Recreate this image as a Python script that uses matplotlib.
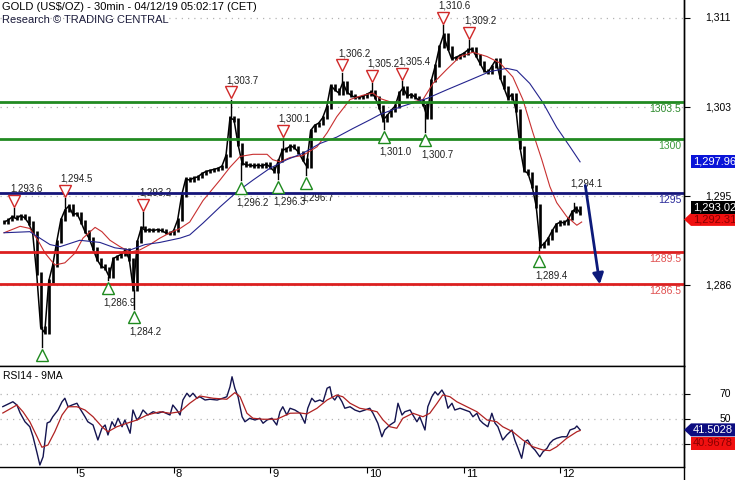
import numpy as np
import matplotlib
matplotlib.use("Agg")
import matplotlib.pyplot as plt
from matplotlib import transforms
from matplotlib.patches import Polygon
from matplotlib.lines import Line2D

plt.rcParams['font.family'] = ['Liberation Sans', 'DejaVu Sans']

# ---- data (x = hours since 00:00 CET on the 4th, trading days only) ----
HOUR0 = 6
CLOSE = [
    # 4th
    1292.3, 1292.5, 1292.8, 1292.6, 1292.9, 1292.7, 1292.2, 1291.3, 1287.5, 1282.5, 1282.0, 1286.8,
    1288.3, 1290.5, 1292.5, 1293.4, 1293.8, 1293.0,
    # 5th
    1293.1, 1292.3, 1291.4, 1290.8, 1289.8, 1288.8, 1288.2, 1288.0, 1287.2, 1288.9, 1289.1, 1289.3,
    1289.7, 1288.8, 1286.0, 1290.5, 1291.8, 1291.5, 1291.6, 1291.5, 1291.6, 1291.5, 1291.3, 1291.2,
    # 8th
    1291.5, 1292.5, 1294.8, 1296.3, 1296.2, 1296.4, 1296.5, 1296.8, 1297.0, 1297.1, 1297.2, 1297.3,
    1297.5, 1298.5, 1302.0, 1301.8, 1299.5, 1297.8, 1297.6, 1297.6, 1297.5, 1297.6, 1297.5, 1297.7,
    # 9th
    1297.4, 1297.0, 1298.0, 1299.0, 1299.1, 1299.4, 1299.2, 1298.8, 1298.1, 1297.5, 1300.8, 1301.3,
    1301.5, 1302.0, 1303.0, 1305.0, 1304.6, 1304.3, 1305.3, 1304.4, 1304.1, 1303.9, 1303.9, 1304.0,
    # 10th
    1304.2, 1304.4, 1303.9, 1303.0, 1301.8, 1302.2, 1302.7, 1303.1, 1304.3, 1304.8, 1304.0, 1304.2,
    1303.9, 1303.6, 1303.2, 1302.0, 1305.5, 1306.9, 1308.6, 1309.7, 1308.5, 1307.5, 1307.6, 1307.8,
    # 11th
    1308.0, 1308.3, 1308.4, 1307.8, 1307.1, 1306.4, 1306.2, 1306.8, 1307.4, 1305.8, 1304.8, 1303.8,
    1304.2, 1302.7, 1299.2, 1297.1, 1296.8, 1295.6, 1293.8, 1290.0, 1290.3, 1290.8, 1291.5, 1292.1,
    # 12th
    1292.3, 1292.2, 1292.6, 1293.3, 1293.6, 1293.1,
]

MA_RED_T = [5.9, 9.9, 12.3, 14.3, 16.1, 18.5, 21.0, 23.5, 25.5, 28.5, 30.2, 32.2, 34.7, 37.2, 39.6,
            42.1, 44.6, 47.1, 49.6, 52.0, 55.3, 59.5, 62.0, 64.5, 67.7, 71.2, 72.6, 74.4, 76.9, 80.1,
            83.6, 86.1, 88.5, 91.8, 95.0, 97.5, 99.2, 102.4, 106.7, 109.9, 112.4, 115.8, 119.1, 122.3,
            125.8, 129.0, 132.2, 134.7, 137.2, 139.4, 141.4, 143.1, 145.6, 148.1, 149.3]
MA_RED = [1291.3, 1291.9, 1291.7, 1290.6, 1289.4, 1288.3, 1288.5, 1289.4, 1290.8, 1291.8, 1291.4, 1290.6,
          1290.0, 1289.5, 1289.7, 1290.2, 1290.8, 1291.3, 1291.7, 1292.3, 1294.3, 1296.2, 1297.4, 1298.4,
          1298.6, 1298.6, 1298.1, 1297.9, 1298.3, 1298.5, 1299.3, 1300.6, 1302.1, 1303.7, 1304.1, 1304.3,
          1303.8, 1303.4, 1303.4, 1303.7, 1305.2, 1306.5, 1307.7, 1308.1, 1307.7, 1307.1, 1305.8, 1303.7,
          1300.6, 1298.1, 1295.6, 1294.1, 1292.8, 1292.0, 1292.3]

MA_BLUE_T = [5.9, 12.3, 17.3, 19.8, 24.7, 29.7, 33.4, 37.2, 40.9, 44.6, 49.6, 52.0, 55.3, 59.5, 63.7,
             67.7, 71.9, 76.1, 80.1, 84.3, 88.5, 92.5, 96.7, 99.2, 104.2, 110.9, 115.8, 121.5, 126.5,
             130.7, 133.2, 136.4, 139.7, 143.1, 146.4, 148.9]
MA_BLUE = [1291.3, 1291.4, 1290.2, 1290.0, 1290.6, 1290.4, 1289.9, 1289.7, 1290.2, 1290.4, 1290.8, 1291.1,
           1292.2, 1293.7, 1295.1, 1296.2, 1297.3, 1298.1, 1298.7, 1299.6, 1300.2, 1301.0, 1301.8, 1302.3,
           1303.0, 1303.8, 1304.6, 1305.5, 1306.3, 1306.6, 1306.4, 1305.2, 1303.4, 1301.1, 1299.3, 1297.9]

HIGH_T = [8.4, 21.0, 40.4, 62.2, 75.1, 89.8, 97.2, 104.7, 114.8, 121.3, 147.4]
HIGH_V = [1293.6, 1294.5, 1293.2, 1303.7, 1300.1, 1306.2, 1305.2, 1305.4, 1310.6, 1309.2, 1294.1]
HIGH_MARK = [True] * 10 + [False]
LOW_T = [15.3, 31.7, 38.1, 64.7, 73.9, 80.8, 100.2, 110.4, 138.7]
LOW_V = [1280.7, 1286.9, 1284.2, 1296.2, 1296.3, 1296.7, 1301.0, 1300.7, 1289.4]
LOW_LABEL = [False] + [True] * 8

LEVELS = [1303.5, 1300, 1295, 1289.5, 1286.5]
LEVEL_TXT = ["1303.5", "1300", "1295", "1289.5", "1286.5"]
LEVEL_COL = ["#218a21", "#218a21", "#15157a", "#dc1f1f", "#dc1f1f"]
LEVEL_TXTCOL = ["#2e8a2e", "#3d9a3d", "#2a2a9a", "#e05050", "#e05050"]

FORECAST_T = [150.2, 153.8]
FORECAST_V = [1295.7, 1286.5]

PRICE_TICKS = [1286.4, 1294.7, 1303.0, 1311.3]
PRICE_TICK_TXT = ["1,286", "1,295", "1,303", "1,311"]

RSI_T = [5.6, 8.1, 9.1, 9.9, 11.1, 12.3, 13.1, 14.1, 14.8, 15.6, 16.6, 17.3, 18.0, 19.3, 20.3, 21.0,
         21.8, 22.8, 24.0, 24.7, 26.0, 26.7, 28.0, 29.2, 30.2, 31.0, 31.7, 32.7, 33.4, 34.2, 35.2, 35.9,
         37.2, 37.9, 38.9, 39.6, 40.4, 41.6, 42.9, 44.1, 45.3, 47.1, 47.8, 48.8, 49.6, 50.3, 51.3, 52.0,
         52.8, 53.8, 54.5, 55.8, 57.0, 58.8, 60.2, 61.2, 62.0, 62.5, 63.2, 64.0, 65.0, 65.7, 66.9, 68.2,
         69.4, 70.2, 71.2, 72.4, 73.6, 74.4, 75.1, 76.1, 76.9, 78.1, 79.4, 80.6, 81.3, 82.3, 83.1, 84.3,
         85.1, 86.1, 86.8, 87.3, 88.0, 88.8, 89.8, 90.5, 91.8, 93.0, 94.2, 95.5, 96.7, 97.5, 98.7, 99.7,
         100.4, 101.7, 102.9, 103.7, 104.7, 105.4, 106.7, 107.4, 108.4, 109.1, 110.4, 111.1, 112.1, 112.9,
         113.6, 114.6, 115.3, 116.1, 117.1, 117.8, 119.1, 120.3, 121.5, 122.3, 123.3, 124.0, 124.8, 126.0,
         127.0, 127.8, 128.5, 129.7, 130.7, 132.0, 132.7, 133.5, 134.4, 135.2, 135.9, 136.9, 137.7, 138.9,
         139.7, 140.7, 141.4, 142.2, 143.1, 144.4, 145.6, 146.4, 147.6, 148.1, 148.9]
RSI = [60.1, 64, 61.4, 55, 48, 44, 36, 23, 13.4, 20, 47, 48, 52, 57.4, 64, 66.8,
       60, 61.4, 62.8, 58.8, 52, 48, 45.4, 33.4, 42.8, 45.4, 37.4, 48, 44, 50.8, 44, 49.4,
       38.8, 57.4, 49.4, 52, 57.4, 53.4, 56, 54.8, 56, 53.4, 61.4, 57.4, 53.4, 65.4, 70.8, 68,
       70.8, 66.8, 68, 65.4, 66, 65.4, 66.8, 68, 76, 84, 74.8, 68, 52, 48, 50.8, 49.4,
       50.8, 46.8, 49.4, 50.8, 45.4, 56, 60, 53.4, 58.8, 57.4, 54.8, 46.8, 58.8, 66.8, 64, 65.4,
       64, 74.8, 76, 68, 65.4, 69.4, 64, 58.8, 60, 57.4, 56, 57.4, 58.8, 54.8, 46.8, 36,
       41.4, 45.4, 48, 62.8, 53.4, 56, 57.4, 53.4, 48, 52, 41.4, 60, 68, 72,
       69.4, 73.4, 69.4, 58.8, 62.8, 57.4, 58.8, 57.4, 56, 52, 54.8, 49.4, 46.8, 44,
       54.8, 46.8, 44, 33.4, 37.4, 41.4, 33.4, 26.8, 18.8, 32.1, 33.4, 28, 25.4, 20,
       24, 26.8, 30.8, 33.4, 34.8, 36, 36, 41.4, 42.8, 44.6, 41.5]
RSI_MA_T = [5.6, 9.1, 10.6, 12.3, 14.1, 15.3, 16.8, 18.5, 20.3, 21.8, 24.0, 26.0, 28.0, 30.2, 31.7,
            33.9, 36.4, 38.9, 41.4, 44.6, 47.1, 49.6, 52.0, 54.5, 57.8, 61.2, 63.2, 64.5, 66.2, 67.7,
            70.2, 73.6, 76.9, 79.4, 81.1, 83.6, 86.1, 88.5, 90.0, 91.8, 94.2, 96.7, 98.5, 100.0, 101.7,
            103.4, 104.9, 107.4, 109.9, 111.6, 113.4, 114.8, 116.6, 118.3, 120.8, 123.3, 125.8, 128.2,
            129.7, 132.2, 134.7, 137.2, 139.7, 141.4, 143.1, 145.6, 148.1, 148.9]
RSI_MA = [55, 61.4, 56, 48, 36, 27.6, 29.4, 40, 53.4, 60, 60, 57.4, 52, 44, 40,
          44, 46.8, 49.4, 53.4, 56, 54.8, 56, 62.8, 68.6, 66.8, 66, 71.3, 68, 54.8, 50.8,
          50, 50, 54.8, 55, 54.3, 58.8, 65.4, 69.4, 68, 62.8, 58.8, 57.4, 56, 49.4, 44,
          42.8, 50.8, 54.8, 52, 54.8, 62.8, 69.4, 68, 64, 60, 56, 49.4, 48,
          44, 40, 33.4, 28, 25.4, 24.9, 28, 34.8, 40, 40.97]
RSI_TICKS = [70, 50, 30]

DAY_T = [24, 48, 72, 96, 120, 144]
DAY_TXT = ["5", "8", "9", "10", "11", "12"]

# ---- figure ----
W, H = 735, 480
fig = plt.figure(figsize=(W / 100, H / 100), dpi=100)
RX = 684 / W
ax = fig.add_axes([0, 1 - 366 / H, RX, 366 / H])
rx = fig.add_axes([0, 1 - 467 / H, RX, 101 / H])
for a in (ax, rx):
    a.set_xlim(4.9, 174.7)
    a.spines['left'].set_visible(False)
    for s in a.spines.values():
        s.set_linewidth(1.0)
ax.spines['top'].set_visible(False)
ax.set_ylim(1278.9, 1312.96)
rx.set_ylim(11.8, 92.6)

GRAY = "#b4b4b4"
for v in PRICE_TICKS:
    ax.axhline(v, color=GRAY, lw=0.9, ls=(0, (1, 4)), zorder=0)
for v in RSI_TICKS:
    rx.axhline(v, color=GRAY, lw=0.9, ls=(0, (1, 4)), zorder=0)

# candles: body from previous close to close, plus a close-to-close trace
close = np.array(CLOSE)
hours = HOUR0 + np.arange(len(close))
opens = np.r_[close[0], close[:-1]]
ax.vlines(hours, np.minimum(opens, close) - 0.15, np.maximum(opens, close) + 0.15,
          color="black", lw=1.9, zorder=2)
ax.plot(hours, close, color="black", lw=1.1, zorder=2)
# wicks to the marked swing highs / lows
for t, v in zip(HIGH_T + LOW_T, HIGH_V + LOW_V):
    c = close[int(round(t)) - HOUR0]
    ax.plot([t, t], [c, v], color="black", lw=1.0, zorder=2)

ax.plot(MA_RED_T, MA_RED, color="#c83030", lw=0.8, zorder=3)
ax.plot(MA_BLUE_T, MA_BLUE, color="#24248e", lw=0.8, zorder=3)

side = transforms.blended_transform_factory(ax.transAxes, ax.transData)
for v, txt, col, tcol in zip(LEVELS, LEVEL_TXT, LEVEL_COL, LEVEL_TXTCOL):
    ax.axhline(v, color=col, lw=2.0, zorder=4)
    ax.annotate(txt, xy=(1, v), xycoords=side, xytext=(-2, -5), textcoords="offset points",
                ha="right", va="center", fontsize=7.5, color=tcol, zorder=4)

# swing markers
up = lambda d: transforms.offset_copy(ax.transData, fig=fig, x=0, y=d, units="dots")
for t, v, m in zip(HIGH_T, HIGH_V, HIGH_MARK):
    if m:
        ax.plot(t, v, marker="v", ms=8, mfc="white", mec="#d02828", mew=1.0,
                transform=up(7.5), zorder=5, clip_on=False)
    ax.annotate(f"{v:,.1f}", xy=(t, v), xytext=(-3, 14), textcoords="offset points",
                ha="left", va="center", fontsize=7, color="#202020", zorder=1)
for t, v, lab in zip(LOW_T, LOW_V, LOW_LABEL):
    ax.plot(t, v, marker="^", ms=8, mfc="white", mec="#1e8a1e", mew=1.0,
            transform=up(-8), zorder=5, clip_on=False)
    if lab:
        ax.annotate(f"{v:,.1f}", xy=(t, v), xytext=(-3, -16.2), textcoords="offset points",
                    ha="left", va="center", fontsize=7, color="#202020", zorder=1)

ax.annotate("", xy=(FORECAST_T[1], FORECAST_V[1]), xytext=(FORECAST_T[0], FORECAST_V[0]),
            arrowprops=dict(arrowstyle="-|>", color="#0c1a7a", lw=2.0, mutation_scale=16,
                            shrinkA=0, shrinkB=0), zorder=6)

# RSI panel
rx.plot(RSI_T, RSI, color="#141450", lw=1.0, zorder=3)
rx.plot(RSI_MA_T, RSI_MA, color="#b02222", lw=0.9, zorder=3)

# axes ticks
for a, ticks in ((ax, PRICE_TICKS), (rx, RSI_TICKS)):
    a.yaxis.tick_right()
    a.set_yticks(ticks)
    a.tick_params(axis="y", length=4.3, width=0.8, labelright=False)
ax.tick_params(axis="x", bottom=False, labelbottom=False)
rx.set_xticks(DAY_T)
rx.tick_params(axis="x", length=4.3, width=0.8, labelbottom=False)

day_tr = transforms.offset_copy(transforms.blended_transform_factory(rx.transData, rx.transAxes),
                                fig=fig, x=2, y=0, units="dots")
for t, s in zip(DAY_T, DAY_TXT):
    rx.text(t, -0.07, s, transform=day_tr, ha="left", va="center", fontsize=8, clip_on=False)

right_p = transforms.blended_transform_factory(fig.transFigure, ax.transData)
for v, s in zip(PRICE_TICKS, PRICE_TICK_TXT):
    fig.text(731 / W, v, s, transform=right_p, ha="right", va="center", fontsize=7.5)
right_r = transforms.blended_transform_factory(fig.transFigure, rx.transData)
for v in RSI_TICKS[:2]:
    fig.text(731 / W, v, str(v), transform=right_r, ha="right", va="center", fontsize=7.5)

fig.add_artist(Line2D([RX, RX], [0, 1], transform=fig.transFigure, color="black", lw=1.0))


def tag(a, value, text, face, tcol, dy=0, arrow=False):
    y = a.transData.transform((0, value))[1] + dy
    h = 6.5
    pts = [(691, y - h), (W, y - h), (W, y + h), (691, y + h)]
    if arrow:
        pts.append((684, y))
    fig.add_artist(Polygon(np.array(pts) / [W, H], closed=True, transform=fig.transFigure,
                           facecolor=face, edgecolor="none", zorder=5))
    fig.text(693 / W, y / H, text, ha="left", va="center", fontsize=8, color=tcol, zorder=6)


tag(ax, MA_BLUE[-1], "1,297.96", "#0a14d8", "white")
tag(ax, 1292.31, "1,292.31", "#f01010", "#8a0000", dy=2.5, arrow=True)
tag(ax, close[-1], "1,293.02", "black", "white", dy=6)
tag(rx, 41.5028, "41.5028", "#0c0c80", "white", arrow=True)
tag(rx, 40.9678, "40.9678", "#f01010", "#8a0000", dy=-12.5)

fig.text(2 / W, 1 - 7 / H, "GOLD (US$/OZ) - 30min - 04/12/19 05:02:17 (CET)", ha="left", va="center",
         fontsize=8)
fig.text(2 / W, 1 - 20 / H, "Research \u00a9 TRADING CENTRAL", ha="left", va="center", fontsize=8,
         color="#1c1c3c")
fig.text(3 / W, 1 - 376 / H, "RSI14 - 9MA", ha="left", va="center", fontsize=7.5)

fig.savefig("out.png", dpi=100, facecolor="white")
